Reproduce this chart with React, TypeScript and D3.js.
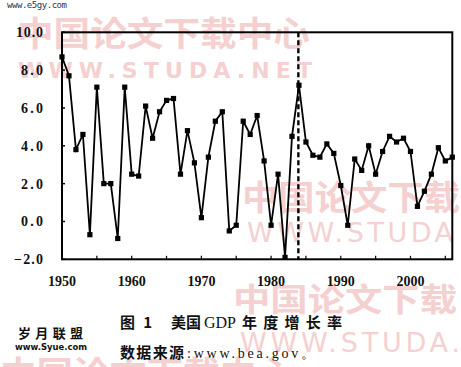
import React from 'react';
import * as d3 from 'd3';

const years = [
  1950, 1951, 1952, 1953, 1954, 1955, 1956, 1957, 1958, 1959,
  1960, 1961, 1962, 1963, 1964, 1965, 1966, 1967, 1968, 1969,
  1970, 1971, 1972, 1973, 1974, 1975, 1976, 1977, 1978, 1979,
  1980, 1981, 1982, 1983, 1984, 1985, 1986, 1987, 1988, 1989,
  1990, 1991, 1992, 1993, 1994, 1995, 1996, 1997, 1998, 1999,
  2000, 2001, 2002, 2003, 2004, 2005, 2006,
];
const growth = [
  8.7, 7.7, 3.8, 4.6, -0.7, 7.1, 2.0, 2.0, -0.9, 7.1,
  2.5, 2.4, 6.1, 4.4, 5.8, 6.4, 6.5, 2.5, 4.8, 3.1,
  0.2, 3.4, 5.3, 5.8, -0.5, -0.2, 5.3, 4.6, 5.6, 3.2,
  -0.2, 2.5, -1.9, 4.5, 7.2, 4.2, 3.5, 3.4, 4.1, 3.6,
  1.9, -0.2, 3.3, 2.7, 4.0, 2.5, 3.7, 4.5, 4.2, 4.4,
  3.7, 0.8, 1.6, 2.5, 3.9, 3.2, 3.4,
];
const yTicks = [-2, 0, 2, 4, 6, 8, 10];
const xLabelTicks = [1950, 1960, 1970, 1980, 1990, 2000];
const xMinorTicks = [1955, 1960, 1965, 1970, 1975, 1980, 1985, 1990, 1995, 2000, 2005];
const breakYear = 1984;
const titleParts = ['图 1', '美国', 'GDP', '年度增长率'];
const sourceParts = ['数据来源', ':www.bea.gov。'];

const W = 461;
const H = 367;
const left = 62;
const right = 452.3;
const top = 32.3;
const bottom = 259.3;

const WM = '#f5d0d0';

export default function App() {
  const x = d3.scaleLinear().domain([1950, 2006]).range([left, right]);
  const y = d3.scaleLinear().domain([-2, 10]).range([bottom, top]);
  const pts = years.map((yr, i) => [yr, growth[i]] as [number, number]);
  const line = d3
    .line<[number, number]>()
    .x((d) => x(d[0]))
    .y((d) => y(d[1]));
  const serif = '"Liberation Serif", "Times New Roman", serif';
  const cjk = '"Noto Sans CJK SC", sans-serif';
  const latin = '"DejaVu Sans", sans-serif';
  const fmt = d3.format('.1f');

  return (
    <svg
      width={W}
      height={H}
      viewBox={`0 0 ${W} ${H}`}
      style={{ position: 'absolute', left: 0, top: 0, background: '#fff' }}
    >
      <rect x={0} y={0} width={W} height={H} fill="#fff" />
      {/* watermarks */}
      <g fill={WM} fontFamily={cjk} fontWeight={700}>
        <text x={17} y={46} fontSize={34} textLength={293} lengthAdjust="spacingAndGlyphs">中国论文下载中心</text>
        <text x={18} y={78} fontSize={22} fontFamily={latin} textLength={294} lengthAdjust="spacing">WWW.STUDA.NET</text>
        <text x={242} y={210} fontSize={34} textLength={218} lengthAdjust="spacingAndGlyphs">中国论文下载</text>
        <text x={247} y={242} fontSize={27} fontWeight={400} fontFamily={latin} textLength={206} lengthAdjust="spacing">WWW.STUDA</text>
        <text x={233} y={311} fontSize={32} textLength={224} lengthAdjust="spacingAndGlyphs">中国论文下载</text>
        <text x={240} y={352} fontSize={27} fontWeight={400} fontFamily={latin} textLength={220} lengthAdjust="spacing">WWW.STUDA.</text>
        <text x={0} y={386} fontSize={34} textLength={293} lengthAdjust="spacingAndGlyphs">中国论文下载中心</text>
      </g>
      <text x={7} y={8} fontSize={9} fontFamily='"DejaVu Sans Mono", monospace' fill="#334" textLength={60}>www.e5gy.com</text>

      {/* frame */}
      <rect x={left} y={top} width={right - left} height={bottom - top} fill="none" stroke="#000" strokeWidth={2} />

      {/* y ticks */}
      {yTicks.map((t) => (
        <g key={'y' + t}>
          <line x1={left} x2={left + 3} y1={y(t)} y2={y(t)} stroke="#000" strokeWidth={1.5} />
          <text x={43} y={y(t)} dy="0.35em" textAnchor="end" fontFamily={serif} fontWeight={700} fontSize={14} fill="#111" textLength={t === 10 ? 27 : t < 0 ? 29 : 22} lengthAdjust="spacing">
            {fmt(t)}
          </text>
        </g>
      ))}
      {/* x ticks */}
      {xMinorTicks.map((t) => (
        <line key={'xm' + t} x1={x(t)} x2={x(t)} y1={bottom} y2={bottom - 3.5} stroke="#000" strokeWidth={1.2} />
      ))}
      {xLabelTicks.map((t) => (
        <text key={'xl' + t} x={x(t)} y={286} textAnchor="middle" fontFamily={serif} fontWeight={700} fontSize={14} fill="#111">
          {t}
        </text>
      ))}

      {/* break line */}
      <line x1={x(breakYear) - 0.6} x2={x(breakYear) - 0.6} y1={top} y2={bottom} stroke="#000" strokeWidth={2.4} strokeDasharray="5,3" />

      {/* series */}
      <path d={line(pts) || ''} fill="none" stroke="#000" strokeWidth={1.8} strokeLinejoin="miter" />
      {pts.map((d) => (
        <rect key={'p' + d[0]} x={x(d[0]) - 2.6} y={y(d[1]) - 2.6} width={5.2} height={5.2} fill="#000" />
      ))}

      {/* caption */}
      <g fill="#111" fontWeight={700} fontSize={15}>
        <text x={120} y={328} fontFamily={cjk} textLength={32}>{titleParts[0]}</text>
        <text x={171} y={328} fontFamily={cjk} textLength={30}>{titleParts[1]}</text>
        <text x={204} y={328} fontFamily={serif} fontWeight={400} fontSize={16}>{titleParts[2]}</text>
        <text x={242} y={328} fontFamily={cjk} textLength={100} lengthAdjust="spacing">{titleParts[3]}</text>
        <text x={120} y={358} fontFamily={cjk} textLength={64} lengthAdjust="spacing">{sourceParts[0]}</text>
        <text x={187} y={358} fontFamily={serif} fontWeight={400} fontSize={14} textLength={128} lengthAdjust="spacing">{sourceParts[1]}</text>
      </g>
      <text x={18} y={338} fontFamily={cjk} fontWeight={700} fontSize={13} fill="#111" textLength={65} lengthAdjust="spacing">岁月联盟</text>
      <text x={15} y={350} fontFamily={latin} fontWeight={700} fontSize={9} fill="#111" textLength={72} lengthAdjust="spacingAndGlyphs">www.Syue.com</text>
    </svg>
  );
}
